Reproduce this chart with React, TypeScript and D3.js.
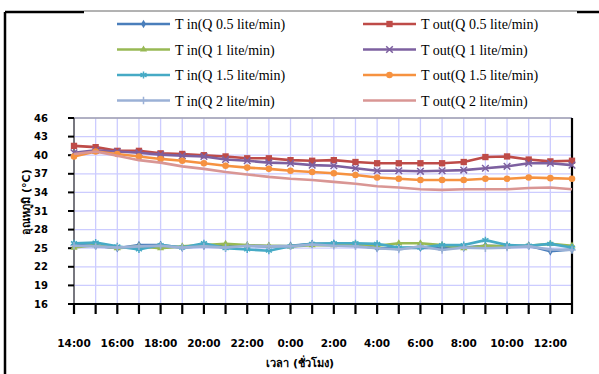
import React from 'react'
import * as d3 from 'd3'

// time of day, one reading per hour
const times = [
  '14:00', '15:00', '16:00', '17:00', '18:00', '19:00', '20:00', '21:00',
  '22:00', '23:00', '0:00', '1:00', '2:00', '3:00', '4:00', '5:00',
  '6:00', '7:00', '8:00', '9:00', '10:00', '11:00', '12:00', '13:00',
]
const yTicks = [16, 19, 22, 25, 28, 31, 34, 37, 40, 43, 46]

const tIn05 = [25.5, 25.4, 25.0, 25.5, 25.5, 25.1, 25.4, 25.5, 25.4, 25.3, 25.4, 25.7, 25.7, 25.5, 25.0, 25.0, 25.1, 25.0, 25.1, 25.4, 25.3, 25.4, 24.5, 24.8]
const tOut05 = [41.5, 41.3, 40.7, 40.7, 40.3, 40.2, 40.0, 39.8, 39.5, 39.5, 39.2, 39.1, 39.2, 38.9, 38.7, 38.7, 38.7, 38.7, 38.9, 39.7, 39.8, 39.3, 39.0, 39.1]
const tIn1 = [25.1, 25.5, 25.0, 25.3, 25.0, 25.3, 25.5, 25.7, 25.5, 25.4, 25.3, 25.5, 25.5, 25.7, 25.4, 25.8, 25.8, 25.5, 25.0, 25.4, 25.3, 25.4, 25.7, 25.4]
const tOut1 = [40.4, 40.8, 40.6, 40.4, 40.1, 39.9, 39.8, 39.3, 39.1, 38.8, 38.7, 38.4, 38.3, 37.9, 37.5, 37.5, 37.4, 37.5, 37.6, 37.9, 38.2, 38.7, 38.7, 38.4]
const tIn15 = [25.8, 25.9, 25.3, 24.8, 25.5, 25.1, 25.8, 25.0, 24.8, 24.6, 25.3, 25.7, 25.8, 25.8, 25.7, 25.1, 25.1, 25.5, 25.5, 26.3, 25.5, 25.4, 25.7, 25.1]
const tOut15 = [39.8, 40.6, 40.2, 39.8, 39.4, 39.1, 38.7, 38.3, 38.0, 37.8, 37.5, 37.3, 37.1, 36.8, 36.4, 36.2, 36.0, 36.0, 36.0, 36.2, 36.2, 36.4, 36.3, 36.2]
const tIn2 = [25.4, 25.3, 25.1, 25.3, 25.4, 25.1, 25.3, 25.1, 25.4, 25.3, 25.3, 25.6, 25.4, 25.3, 25.0, 24.8, 25.3, 24.7, 25.1, 25.0, 25.1, 25.3, 24.8, 24.7]
const tOut2 = [40.2, 40.6, 39.9, 39.2, 38.8, 38.2, 37.8, 37.3, 36.9, 36.5, 36.2, 36.0, 35.7, 35.4, 35.0, 34.8, 34.5, 34.4, 34.5, 34.5, 34.5, 34.7, 34.8, 34.5]

const series = [
  { name: 'T in(Q 0.5 lite/min)', values: tIn05, color: '#4A7EBB', symbol: d3.symbolDiamond, size: 22, fill: true },
  { name: 'T out(Q 0.5 lite/min)', values: tOut05, color: '#BE4B48', symbol: d3.symbolSquare, size: 40, fill: true },
  { name: 'T in(Q 1 lite/min)', values: tIn1, color: '#98B954', symbol: d3.symbolTriangle, size: 22, fill: true },
  { name: 'T out(Q 1 lite/min)', values: tOut1, color: '#7D60A0', symbol: d3.symbolTimes, size: 30, fill: false },
  { name: 'T in(Q 1.5 lite/min)', values: tIn15, color: '#46AAC5', symbol: d3.symbolAsterisk, size: 34, fill: false },
  { name: 'T out(Q 1.5 lite/min)', values: tOut15, color: '#F69240', symbol: d3.symbolCircle, size: 34, fill: true },
  { name: 'T in(Q 2 lite/min)', values: tIn2, color: '#9BB1D6', symbol: d3.symbolPlus, size: 20, fill: false },
  { name: 'T out(Q 2 lite/min)', values: tOut2, color: '#D99694', symbol: null, size: 0, fill: true },
]

export default function App() {
  const width = 599
  const height = 374
  const left = 74
  const right = 572
  const top = 118
  const bottom = 304

  const x = d3.scalePoint<string>().domain(times).range([left, right])
  const y = d3.scaleLinear().domain([16, 46]).range([bottom, top])

  const line = d3
    .line<number>()
    .x((_, i) => x(times[i]) as number)
    .y(d => y(d))

  const tickFont = '"DejaVu Sans", sans-serif'

  return (
    <svg
      width={width}
      height={height}
      style={{ position: 'absolute', left: 0, top: 0, background: '#fff' }}
    >
      {/* chart frame (cropped) */}
      <line x1={5} y1={12} x2={5} y2={374} stroke="#000" strokeWidth={2.5} />
      <line x1={5} y1={12} x2={84} y2={12} stroke="#000" strokeWidth={2.5} />
      <line x1={84} y1={11} x2={577} y2={11} stroke="#666" strokeWidth={1} />
      <line x1={577} y1={12} x2={599} y2={12} stroke="#000" strokeWidth={2.5} />

      {/* gridlines */}
      {times.map(t => (
        <line key={t} x1={x(t)} x2={x(t)} y1={top} y2={bottom} stroke="#CCCCFF" strokeWidth={1.3} />
      ))}
      {yTicks.map(v => (
        <line key={v} x1={left} x2={right} y1={y(v)} y2={y(v)} stroke="#CCCCFF" strokeWidth={1.3} />
      ))}
      <line x1={left} x2={right} y1={top} y2={top} stroke="#888" strokeWidth={1} />
      <line x1={right} x2={right} y1={top} y2={bottom} stroke="#000" strokeWidth={2.2} />

      {/* y axis */}
      <line x1={left} x2={left} y1={top} y2={bottom} stroke="#555" strokeWidth={1.5} />
      {yTicks.map(v => (
        <g key={v}>
          <line x1={left - 6} x2={left} y1={y(v)} y2={y(v)} stroke="#000" strokeWidth={2} />
          <text
            x={48}
            y={y(v) + 3.5}
            textAnchor="end"
            fontFamily={tickFont}
            fontWeight="bold"
            fontSize={10}
            fill="#000"
          >
            {v}
          </text>
        </g>
      ))}
      <text
        transform={`translate(30, 202) rotate(-90)`}
        textAnchor="middle"
        fontFamily={tickFont}
        fontWeight="bold"
        fontSize={11}
        fill="#000"
      >
        อุณหภูมิ (°C)
      </text>

      {/* x axis */}
      <line x1={left} x2={right} y1={bottom} y2={bottom} stroke="#000" strokeWidth={2} />
      {times.map((t, i) => (
        <g key={t}>
          <line x1={x(t)} x2={x(t)} y1={bottom} y2={bottom + 10} stroke="#000" strokeWidth={2.2} />
          {i % 2 === 0 && (
            <text
              x={x(t)}
              y={347}
              textAnchor="middle"
              fontFamily={tickFont}
              fontWeight="bold"
              fontSize={10.5}
              fill="#000"
            >
              {t}
            </text>
          )}
        </g>
      ))}
      <text
        x={300}
        y={367}
        textAnchor="middle"
        fontFamily={tickFont}
        fontWeight="bold"
        fontSize={11}
        fill="#000"
      >
        เวลา (ชั่วโมง)
      </text>

      {/* series */}
      {series.map(s => (
        <g key={s.name}>
          <path d={line(s.values) || ''} fill="none" stroke={s.color} strokeWidth={2.6} strokeLinejoin="round" />
          {s.symbol &&
            s.values.map((v, i) => (
              <path
                key={i}
                transform={`translate(${x(times[i])},${y(v)})`}
                d={d3.symbol(s.symbol, s.size)() || ''}
                fill={s.fill ? s.color : 'none'}
                stroke={s.color}
                strokeWidth={s.fill ? 0 : 1.5}
              />
            ))}
        </g>
      ))}

      {/* legend */}
      {series.map((s, i) => {
        const col = i % 2
        const row = Math.floor(i / 2)
        const lx = col === 0 ? 117 : 363
        const ly = 24 + row * 25.5
        return (
          <g key={s.name} transform={`translate(${lx},${ly})`}>
            <line x1={0} x2={53} y1={0} y2={0} stroke={s.color} strokeWidth={2.6} />
            {s.symbol && (
              <path
                transform="translate(26.5,0)"
                d={d3.symbol(s.symbol, s.size)() || ''}
                fill={s.fill ? s.color : 'none'}
                stroke={s.color}
                strokeWidth={s.fill ? 0 : 1.5}
              />
            )}
            <text
              x={58}
              y={5}
              fontFamily='"Liberation Serif", serif'
              fontSize={14}
              fill="#000"
            >
              {s.name}
            </text>
          </g>
        )
      })}
    </svg>
  )
}
